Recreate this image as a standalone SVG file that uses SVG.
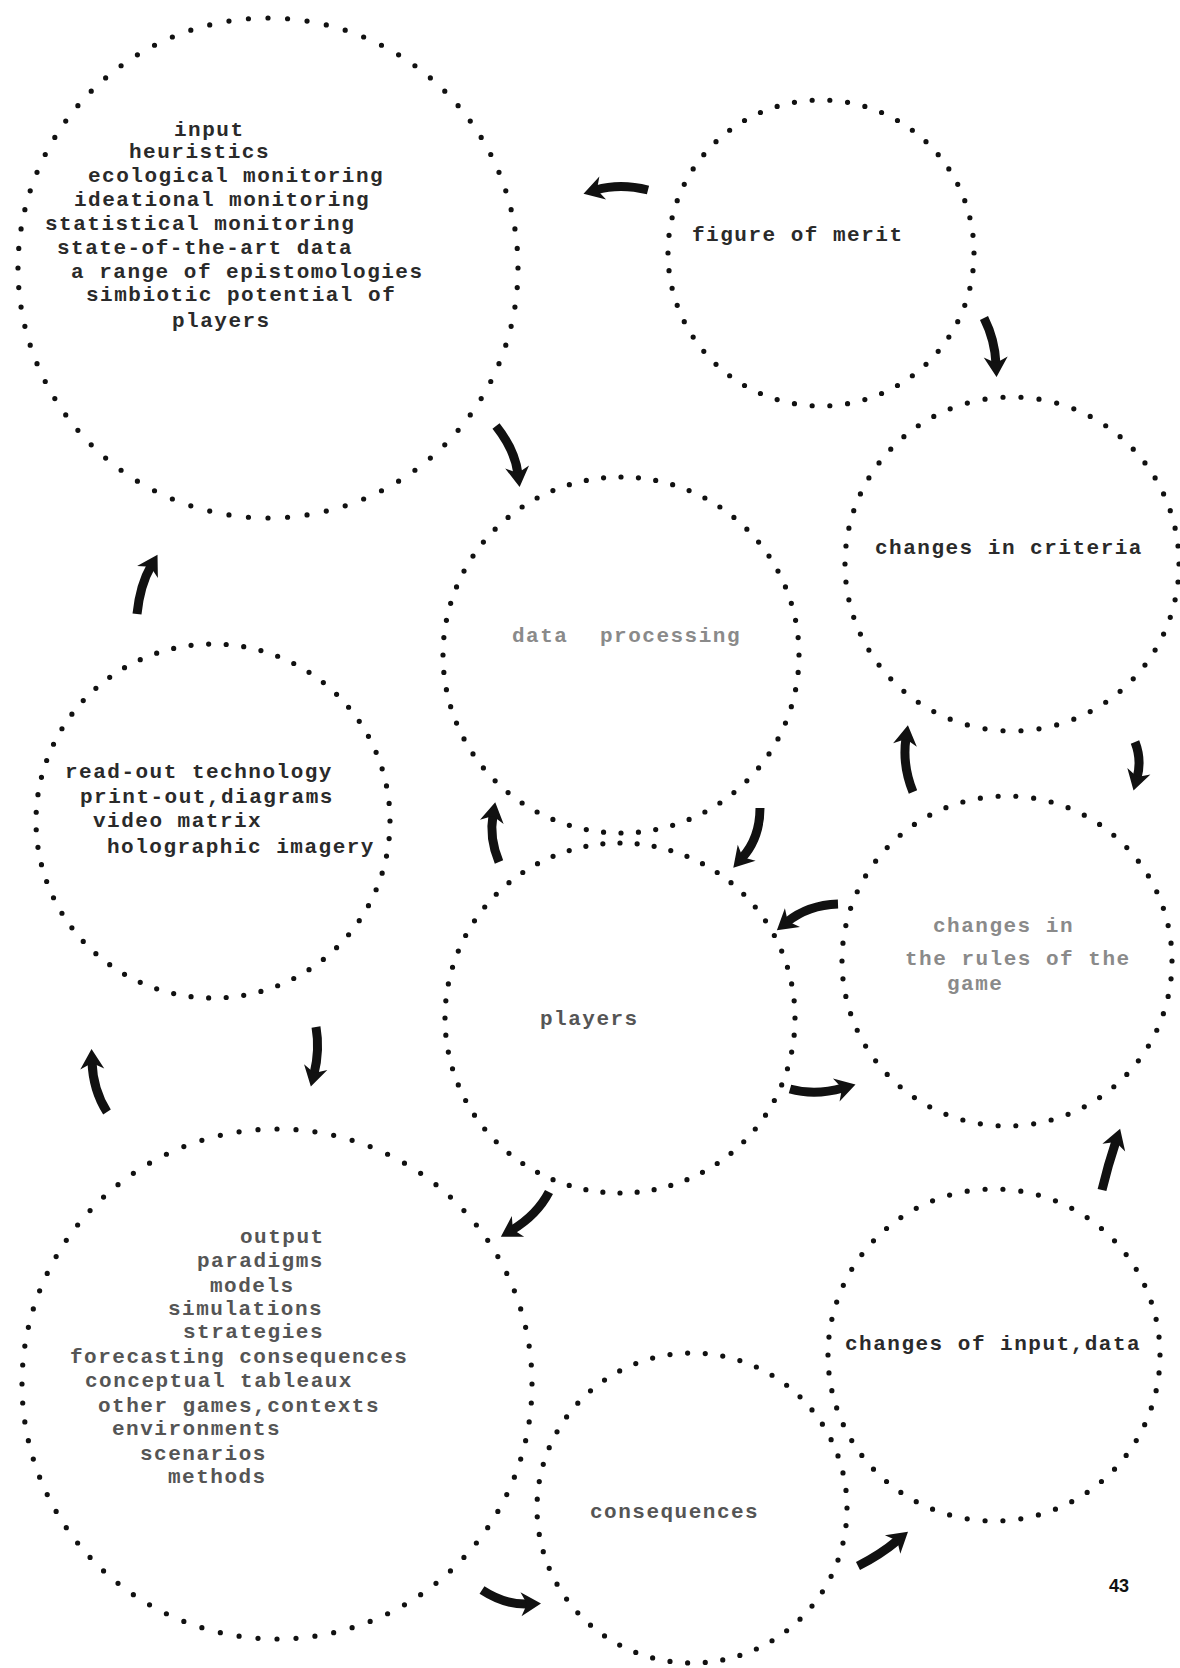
<svg xmlns="http://www.w3.org/2000/svg" width="1180" height="1668" viewBox="0 0 1180 1668">
  <style>
    .ring { fill: none; stroke: #111; stroke-width: 5.2; stroke-linecap: round; stroke-dasharray: 0 1; }
    .tw { font-family: "Liberation Mono", "Courier New", monospace; font-size: 21px; letter-spacing: 1.5px; font-weight: bold; }
    .dark { fill: #2a2a2a; }
    .mid { fill: #555; }
    .faint { fill: #8a8a8a; }
    .arrow { fill: none; stroke: #111; stroke-width: 9; stroke-linecap: butt; marker-end: url(#ah); }
    .pg { font-family: "Liberation Sans", Arial, sans-serif; font-size: 18px; font-weight: bold; fill: #111; }
  </style>
  <defs>
    <marker id="ah" markerUnits="userSpaceOnUse" viewBox="-9 -13 24 26" refX="0" refY="0" markerWidth="24" markerHeight="26" orient="auto">
      <path d="M13,0 L-7,-12 L-1,0 L-7,12 Z" fill="#111"/>
    </marker>
  </defs>
  <rect width="1180" height="1668" fill="#ffffff"/>

  <g id="node-input">
    <circle class="ring" cx="268" cy="268" r="250" pathLength="80"/>
    <text class="tw dark">
      <tspan x="174" y="136">input</tspan>
      <tspan x="129" y="158">heuristics</tspan>
      <tspan x="88" y="182">ecological monitoring</tspan>
      <tspan x="74" y="206">ideational monitoring</tspan>
      <tspan x="45" y="230">statistical monitoring</tspan>
      <tspan x="57" y="254">state-of-the-art data</tspan>
      <tspan x="71" y="278">a range of epistomologies</tspan>
      <tspan x="86" y="301">simbiotic potential of</tspan>
      <tspan x="172" y="327">players</tspan>
    </text>
  </g>

  <g id="node-figure-of-merit">
    <circle class="ring" cx="821" cy="253" r="153" pathLength="54"/>
    <text class="tw dark" x="692" y="241">figure of merit</text>
  </g>

  <g id="node-criteria">
    <circle class="ring" cx="1012" cy="564" r="167" pathLength="58"/>
    <text class="tw dark" x="875" y="554">changes in criteria</text>
  </g>

  <g id="node-data-processing">
    <circle class="ring" cx="621" cy="655" r="178" pathLength="64"/>
    <text class="tw faint"><tspan x="512" y="642">data</tspan><tspan x="600" y="642">processing</tspan></text>
  </g>

  <g id="node-readout">
    <circle class="ring" cx="213" cy="821" r="177" pathLength="63"/>
    <text class="tw dark">
      <tspan x="65" y="778">read-out technology</tspan>
      <tspan x="80" y="803">print-out,diagrams</tspan>
      <tspan x="93" y="827">video matrix</tspan>
      <tspan x="107" y="853">holographic imagery</tspan>
    </text>
  </g>

  <g id="node-players">
    <circle class="ring" cx="620" cy="1018" r="175" pathLength="64"/>
    <text class="tw mid" x="540" y="1025">players</text>
  </g>

  <g id="node-rules">
    <circle class="ring" cx="1007" cy="961" r="165" pathLength="58"/>
    <text class="tw faint">
      <tspan x="933" y="932">changes in</tspan>
      <tspan x="905" y="965">the rules of the</tspan>
      <tspan x="947" y="990">game</tspan>
    </text>
  </g>

  <g id="node-output">
    <circle class="ring" cx="277" cy="1384" r="255" pathLength="84"/>
    <text class="tw mid">
      <tspan x="240" y="1243">output</tspan>
      <tspan x="197" y="1267">paradigms</tspan>
      <tspan x="210" y="1292">models</tspan>
      <tspan x="168" y="1315">simulations</tspan>
      <tspan x="183" y="1338">strategies</tspan>
      <tspan x="70" y="1363">forecasting consequences</tspan>
      <tspan x="85" y="1387">conceptual tableaux</tspan>
      <tspan x="98" y="1412">other games,contexts</tspan>
      <tspan x="112" y="1435">environments</tspan>
      <tspan x="140" y="1460">scenarios</tspan>
      <tspan x="168" y="1483">methods</tspan>
    </text>
  </g>

  <g id="node-consequences">
    <circle class="ring" cx="692" cy="1508" r="155" pathLength="55"/>
    <text class="tw mid" x="590" y="1518">consequences</text>
  </g>

  <g id="node-changes-input">
    <circle class="ring" cx="994" cy="1355" r="166" pathLength="58"/>
    <text class="tw dark" x="845" y="1350">changes of input,data</text>
  </g>

  <g id="connectors">
    <path class="arrow" d="M648,190 Q620,183 596,190"/>
    <path class="arrow" d="M984,318 Q995,340 996,364"/>
    <path class="arrow" d="M496,426 Q515,450 518,474"/>
    <path class="arrow" d="M1135,742 Q1142,760 1137,778"/>
    <path class="arrow" d="M913,792 Q902,765 906,738"/>
    <path class="arrow" d="M838,904 Q808,905 787,922"/>
    <path class="arrow" d="M790,1089 Q815,1096 843,1088"/>
    <path class="arrow" d="M760,808 Q760,838 742,858"/>
    <path class="arrow" d="M499,862 Q489,838 493,815"/>
    <path class="arrow" d="M137,614 Q140,585 151,566"/>
    <path class="arrow" d="M107,1112 Q93,1090 92,1062"/>
    <path class="arrow" d="M316,1027 Q320,1050 314,1074"/>
    <path class="arrow" d="M549,1192 Q537,1215 512,1230"/>
    <path class="arrow" d="M482,1590 Q505,1605 528,1604"/>
    <path class="arrow" d="M858,1566 Q880,1555 898,1540"/>
    <path class="arrow" d="M1102,1190 Q1108,1165 1116,1141"/>
  </g>

  <text class="pg" x="1119" y="1592" text-anchor="middle">43</text>
</svg>
